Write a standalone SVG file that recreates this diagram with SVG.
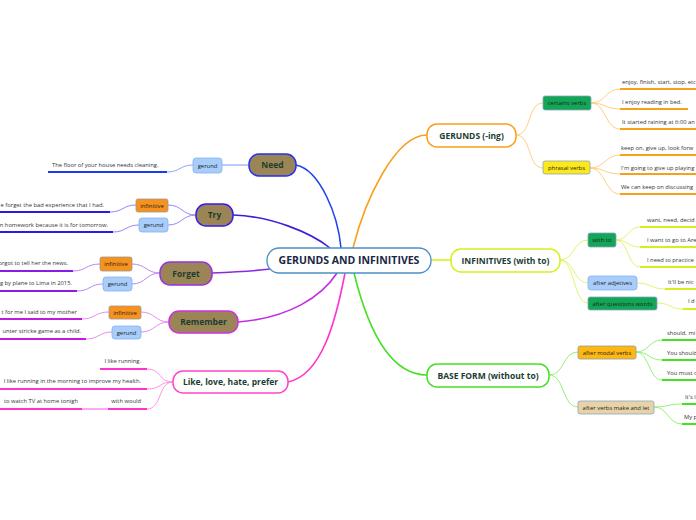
<svg xmlns="http://www.w3.org/2000/svg" width="696" height="520" viewBox="0 0 696 520">
<style>
text{font-family:"Open Sans","Noto Sans",sans-serif}
.main{font-weight:bold;font-size:8.5px;fill:#1b3d31;text-anchor:middle}
.title{font-weight:bold;font-size:10.5px;fill:#1a2744;text-anchor:middle}
.lab{font-size:5.9px;fill:#222;text-anchor:middle}
.leaf{font-size:5.8px;fill:#333}
.leafe{font-size:5.8px;fill:#333;text-anchor:end}
.c{fill:none;stroke-width:1.6}
.t{fill:none;stroke-width:0.9}
.u{fill:none;stroke-width:2}
.brown{fill:#9b8557;stroke-width:1.5}
.box{stroke:#8aa4c0;stroke-width:0.8}
</style>
<rect width="696" height="520" fill="#ffffff"/>
<g id="connectors">
<path class="c" stroke="#2244ee" d="M296,165 C320,170 338,215 341,248"/>
<path class="c" stroke="#3a22d8" d="M233,215 C270,216 310,232 330,248"/>
<path class="c" stroke="#8a2be2" d="M212,273 C235,272 255,271 270,269"/>
<path class="c" stroke="#c030e0" d="M238,322 C290,318 322,296 337,273"/>
<path class="c" stroke="#ff33cc" d="M288,382 C322,375 336,320 345,273"/>
<path class="c" stroke="#f7a11a" d="M353,248 C365,200 395,135 427,135"/>
<path class="c" stroke="#d6f01e" d="M430,260 L451,260"/>
<path class="c" stroke="#44e022" d="M354,273 C368,330 390,375 427,375"/>
<path class="t" stroke="#6c8cf8" d="M249,165 L222,165"/>
<path class="t" stroke="#8898f8" d="M193,165 C180,165 180,172 167,172"/>
<path class="u" stroke="#1a3af0" d="M167,172 L48,172"/>
<path class="t" stroke="#8878f0" d="M196,215 C182,215 182,205 168,205"/>
<path class="t" stroke="#8878f0" d="M196,215 C182,215 182,225 168,225"/>
<path class="t" stroke="#8878f0" d="M136,205 C123,205 123,212 110,212"/>
<path class="t" stroke="#8878f0" d="M139,225 C126,225 126,232 113,232"/>
<path class="u" stroke="#2a1ae8" d="M110,212 L0,212"/>
<path class="u" stroke="#2a1ae8" d="M113,232 L0,232"/>
<path class="t" stroke="#b07af0" d="M160,273 C146,273 146,264 132,264"/>
<path class="t" stroke="#b07af0" d="M160,273 C146,273 146,284 132,284"/>
<path class="t" stroke="#b07af0" d="M100,264 C86,264 86,271 73,271"/>
<path class="t" stroke="#b07af0" d="M103,284 C90,284 90,291 77,291"/>
<path class="u" stroke="#8a1ae8" d="M73,271 L0,271"/>
<path class="u" stroke="#8a1ae8" d="M77,291 L0,291"/>
<path class="t" stroke="#e080f0" d="M169,322 C155,322 155,312 141,312"/>
<path class="t" stroke="#e080f0" d="M169,322 C155,322 155,332 141,332"/>
<path class="t" stroke="#e080f0" d="M109,312 C95,312 95,319 82,319"/>
<path class="t" stroke="#e080f0" d="M112,332 C99,332 99,339 86,339"/>
<path class="u" stroke="#c21ae0" d="M82,319 L0,319"/>
<path class="u" stroke="#c21ae0" d="M86,339 L0,339"/>
<path class="t" stroke="#ff88dd" d="M173,382 C158,382 162,369 147,369"/>
<path class="t" stroke="#ff88dd" d="M173,382 C158,382 162,389 147,389"/>
<path class="t" stroke="#ff88dd" d="M173,382 C158,382 162,409 147,409"/>
<path class="u" stroke="#ff33cc" d="M147,369 L100,369"/>
<path class="u" stroke="#ff33cc" d="M147,389 L0,389"/>
<path class="u" stroke="#ff33cc" d="M147,409 L108,409"/>
<path class="u" stroke="#ffaaee" d="M108,409 L82,409"/>
<path class="u" stroke="#ff33cc" d="M82,409 L0,409"/>
<path class="t" stroke="#ffc870" d="M516,135 C532,135 527,103 543,103"/>
<path class="t" stroke="#ffc870" d="M516,135 C532,135 527,168 543,168"/>
<path class="t" stroke="#ffc870" d="M591,103 C606,103 605,89 620,89"/>
<path class="t" stroke="#ffc870" d="M591,103 C606,103 605,109 620,109"/>
<path class="t" stroke="#ffc870" d="M591,103 C606,103 605,129 620,129"/>
<path class="t" stroke="#ffc870" d="M590,168 C605,168 605,155 620,155"/>
<path class="t" stroke="#ffc870" d="M590,168 C605,168 605,174 620,174"/>
<path class="t" stroke="#ffc870" d="M590,168 C605,168 605,194 620,194"/>
<path class="u" stroke="#f7a11a" d="M620,89 L696,89"/>
<path class="u" stroke="#f7a11a" d="M620,109 L688,109"/>
<path class="u" stroke="#f7a11a" d="M620,129 L696,129"/>
<path class="u" stroke="#f7a11a" d="M620,155 L696,155"/>
<path class="u" stroke="#f7a11a" d="M620,174 L696,174"/>
<path class="u" stroke="#f7a11a" d="M620,194 L696,194"/>
<path class="t" stroke="#e0f060" d="M560,260 C575,260 573,240 588,240"/>
<path class="t" stroke="#e0f060" d="M560,260 C575,260 573,283 588,283"/>
<path class="t" stroke="#e0f060" d="M560,260 C575,260 573,303 588,303"/>
<path class="t" stroke="#e0f060" d="M616,240 C628,240 628,227 640,227"/>
<path class="t" stroke="#e0f060" d="M616,240 C628,240 628,247 640,247"/>
<path class="t" stroke="#e0f060" d="M616,240 C628,240 628,267 640,267"/>
<path class="t" stroke="#e0f060" d="M637,283 C651,283 651,289 665,289"/>
<path class="t" stroke="#e0f060" d="M657,303 C670,303 670,309 683,309"/>
<path class="u" stroke="#d6ee1e" d="M640,227 L696,227"/>
<path class="u" stroke="#d6ee1e" d="M640,247 L696,247"/>
<path class="u" stroke="#d6ee1e" d="M640,267 L696,267"/>
<path class="u" stroke="#d6ee1e" d="M665,289 L696,289"/>
<path class="u" stroke="#d6ee1e" d="M683,309 L696,309"/>
<path class="t" stroke="#88ee66" d="M549,375 C565,375 562,352 578,352"/>
<path class="t" stroke="#88ee66" d="M549,375 C565,375 562,407 578,407"/>
<path class="t" stroke="#88ee66" d="M636,352 C649,352 649,340 662,340"/>
<path class="t" stroke="#88ee66" d="M636,352 C649,352 649,360 662,360"/>
<path class="t" stroke="#88ee66" d="M636,352 C649,352 649,380 662,380"/>
<path class="t" stroke="#88ee66" d="M654,407 C668,407 668,404 682,404"/>
<path class="t" stroke="#88ee66" d="M654,407 C668,407 668,424 682,424"/>
<path class="u" stroke="#44e022" d="M662,340 L696,340"/>
<path class="u" stroke="#44e022" d="M662,360 L696,360"/>
<path class="u" stroke="#44e022" d="M662,380 L696,380"/>
<path class="u" stroke="#44e022" d="M682,404 L696,404"/>
<path class="u" stroke="#44e022" d="M682,424 L696,424"/>
</g>
<g id="center"><rect x="267" y="248" width="164" height="25" rx="12" fill="#fff" stroke="#4a90c8" stroke-width="1.3"/><text class="title" x="349" y="264">GERUNDS AND INFINITIVES</text></g>
<g id="need"><rect x="249" y="154" width="47" height="22" rx="10" class="brown" stroke="#2233ee"/><text class="main" x="272.5" y="168">Need</text></g>
<g id="need-gerund"><rect x="193" y="158" width="29" height="15" rx="3" fill="#a8cdfb" stroke="#84b2f0" stroke-width="0.8"/><text class="lab" x="207.5" y="167.5">gerund</text></g>
<g id="need-leaf"><text class="leaf" x="52" y="167">The floor of your house needs cleaning.</text></g>
<g id="try"><rect x="196" y="204" width="37" height="22" rx="10" class="brown" stroke="#3a1ae8"/><text class="main" x="214.5" y="218">Try</text></g>
<g id="try-inf"><rect x="136" y="199" width="32" height="13" rx="2" fill="#f7921e" stroke="#999" stroke-width="0.8"/><text class="lab" x="152" y="207.5">infinitive</text></g>
<g id="try-ger"><rect x="139" y="218" width="29" height="14" rx="3" fill="#a8cdfb" stroke="#84b2f0" stroke-width="0.8"/><text class="lab" x="153.5" y="227">gerund</text></g>
<g id="try-leaf1"><text class="leafe" x="104" y="207">e forget the bad experience that I had.</text></g>
<g id="try-leaf2"><text class="leafe" x="108" y="227">n homework because it is for tomorrow.</text></g>
<g id="forget"><rect x="160" y="262" width="52" height="23" rx="10" class="brown" stroke="#9932e0"/><text class="main" x="186" y="276.5">Forget</text></g>
<g id="forget-inf"><rect x="100" y="257" width="32" height="14" rx="2" fill="#f7921e" stroke="#999" stroke-width="0.8"/><text class="lab" x="116" y="266">infinitive</text></g>
<g id="forget-ger"><rect x="103" y="277" width="29" height="14" rx="3" fill="#a8cdfb" stroke="#84b2f0" stroke-width="0.8"/><text class="lab" x="117.5" y="286">gerund</text></g>
<g id="forget-leaf1"><text class="leafe" x="68" y="265">orgot to tell her the news.</text></g>
<g id="forget-leaf2"><text class="leafe" x="72" y="285">g by plane to Lima in 2015.</text></g>
<g id="remember"><rect x="169" y="311" width="69" height="22" rx="10" class="brown" stroke="#cc33dd"/><text class="main" x="203.5" y="325">Remember</text></g>
<g id="rem-inf"><rect x="109" y="306" width="32" height="13" rx="2" fill="#f7921e" stroke="#999" stroke-width="0.8"/><text class="lab" x="125" y="314.5">infinitive</text></g>
<g id="rem-ger"><rect x="112" y="326" width="29" height="13" rx="3" fill="#a8cdfb" stroke="#84b2f0" stroke-width="0.8"/><text class="lab" x="126.5" y="334.5">gerund</text></g>
<g id="rem-leaf1"><text class="leafe" x="77" y="314">t for me I said to my mother</text></g>
<g id="rem-leaf2"><text class="leafe" x="81" y="333">unter stricke game as a child.</text></g>
<g id="like"><rect x="173" y="371" width="115" height="22" rx="10" fill="#fff" stroke="#ff44cc" stroke-width="1.5"/><text class="main" x="230.5" y="385">Like, love, hate, prefer</text></g>
<g id="like-leaf1"><text class="leafe" x="141" y="363">I like running.</text></g>
<g id="like-leaf2"><text class="leafe" x="141" y="383">I like running in the morning to improve my health.</text></g>
<g id="like-leaf3"><text class="leafe" x="141" y="403">with would</text></g>
<g id="like-leaf4"><text class="leafe" x="78" y="403">to watch TV at home tonigh</text></g>
<g id="gerunds"><rect x="427" y="124" width="89" height="23" rx="10" fill="#fff" stroke="#f7a11a" stroke-width="1.5"/><text class="main" x="471.5" y="138.5">GERUNDS (-ing)</text></g>
<g id="certains"><rect x="543" y="96" width="48" height="14" rx="2" fill="#12a656" class="box"/><text class="lab" x="567" y="105">certains verbs</text></g>
<g id="phrasal"><rect x="543" y="161" width="47" height="13" rx="2" fill="#fde81a" class="box"/><text class="lab" x="566.5" y="169.5">phrasal verbs</text></g>
<g id="g-leaves">
<text class="leaf" x="622" y="84">enjoy, finish, start, stop, etc</text>
<text class="leaf" x="622" y="104">I enjoy reading in bed.</text>
<text class="leaf" x="622" y="124">It started raining at 6:00 an</text>
<text class="leaf" x="621" y="150">keep on, give up, look forw</text>
<text class="leaf" x="621" y="170">I'm going to give up playing</text>
<text class="leaf" x="621" y="189">We can keep on discussing</text>
</g>
<g id="infinitives"><rect x="451" y="249" width="109" height="23" rx="10" fill="#fff" stroke="#d6f01e" stroke-width="1.5"/><text class="main" x="505.5" y="263.5">INFINITIVES (with to)</text></g>
<g id="withto"><rect x="588" y="233" width="28" height="14" rx="2" fill="#12a656" class="box"/><text class="lab" x="602" y="242">with to</text></g>
<g id="adjetives"><rect x="588" y="276" width="49" height="14" rx="3" fill="#a8cdfb" stroke="#84b2f0" stroke-width="0.8"/><text class="lab" x="612.5" y="285">after adjetives</text></g>
<g id="questions"><rect x="588" y="297" width="69" height="13" rx="2" fill="#12a656" class="box"/><text class="lab" x="622.5" y="305.5">after questions words</text></g>
<g id="i-leaves">
<text class="leaf" x="647" y="222">want, need, decid</text>
<text class="leaf" x="647" y="242">I want to go to Are</text>
<text class="leaf" x="647" y="262">I need to practice</text>
<text class="leaf" x="668" y="284">It'll be nic</text>
<text class="leaf" x="688" y="303">I d</text>
</g>
<g id="base"><rect x="427" y="364" width="122" height="23" rx="10" fill="#fff" stroke="#44e022" stroke-width="1.5"/><text class="main" x="488" y="378.5">BASE FORM (without to)</text></g>
<g id="modal"><rect x="578" y="346" width="58" height="13" rx="2" fill="#fdb813" stroke="#999" stroke-width="0.8"/><text class="lab" x="607" y="354.5">after modal verbs</text></g>
<g id="makelet"><rect x="578" y="401" width="76" height="13" rx="2" fill="#e8d3a9" class="box"/><text class="lab" x="616" y="409.5">after verbs make and let</text></g>
<g id="b-leaves">
<text class="leaf" x="667" y="335">should, mi</text>
<text class="leaf" x="667" y="355">You should</text>
<text class="leaf" x="667" y="375">You must c</text>
<text class="leaf" x="685" y="399">It's l</text>
<text class="leaf" x="684" y="419">My p</text>
</g>
</svg>
